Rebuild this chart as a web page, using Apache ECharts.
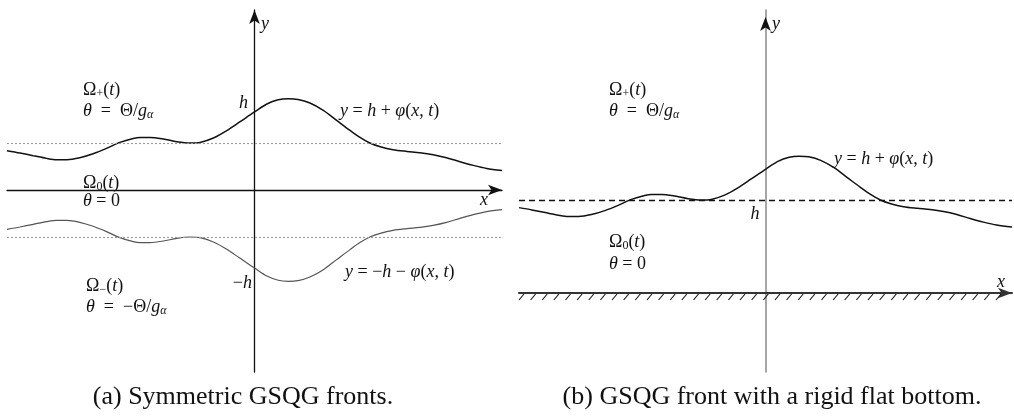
<!DOCTYPE html>
<html>
<head>
<meta charset="utf-8">
<script src="https://cdn.jsdelivr.net/npm/echarts@6/dist/echarts.min.js"></script>
<style>
  html, body { margin: 0; padding: 0; background: #fff; }
  #chart { width: 1014px; height: 416px; }
</style>
</head>
<body>
<div id="chart"></div>
<script>
// front shape: x position and phi(x) (offset from h)
const FRONT_X = [-5.0, -4.74, -4.47, -4.20, -4.00, -3.79, -3.53, -3.26, -2.99, -2.72,
  -2.45, -2.31, -2.11, -1.84, -1.57, -1.30, -1.10, -0.83, -0.56, -0.29,
  0, 0.25, 0.48, 0.68, 0.88, 1.12, 1.39, 1.66, 1.93, 2.13,
  2.33, 2.54, 2.80, 3.08, 3.34, 3.61, 3.88, 4.15, 4.42, 4.69, 5.0];
const FRONT_PHI = [-0.164, -0.213, -0.270, -0.327, -0.355, -0.355, -0.313, -0.228, -0.115, 0.013,
  0.098, 0.119, 0.119, 0.085, 0.028, 0.0, 0.013, 0.106, 0.262, 0.453,
  0.66, 0.83, 0.92, 0.943, 0.928, 0.851, 0.694, 0.481, 0.268, 0.119,
  0.0, -0.079, -0.143, -0.179, -0.206, -0.249, -0.313, -0.398, -0.476, -0.540, -0.583];
const H_A = 1;   // panel (a) level h
const H_B = 2;   // panel (b) level h above the bottom
const X_RANGE = [-5, 5];
const Y_RANGE_A = [-3.872, 3.83];
const Y_RANGE_B = [-1.699, 6.086];

const upperA = FRONT_X.map((x, i) => [x, H_A + FRONT_PHI[i]]);
const lowerA = FRONT_X.map((x, i) => [x, -H_A - FRONT_PHI[i]]);
const frontB = FRONT_X.map((x, i) => [x, H_B + FRONT_PHI[i]]);

// hatching under the rigid bottom (decoration only)
const hatch = [];
for (let x = -4.95; x < 4.95; x += 0.236) hatch.push([x, 0]);

const FONT = '"Liberation Serif", "DejaVu Serif", serif';
const RICH = {
  i: { fontStyle: 'italic', fontSize: 18, fontFamily: FONT, fill: '#111', lineHeight: 20 },
  s: { fontSize: 12, fontFamily: FONT, fill: '#111', verticalAlign: 'bottom', lineHeight: 9 },
  si: { fontSize: 12, fontStyle: 'italic', fontFamily: FONT, fill: '#111', verticalAlign: 'bottom', lineHeight: 9 }
};

function T(x, y, text, align, size) {
  return {
    type: 'text', x: x, y: y, z: 100,
    style: {
      text: text, rich: RICH, fontSize: size || 18, fontFamily: FONT, fill: '#111',
      lineHeight: 20, align: align || 'left', verticalAlign: 'middle'
    }
  };
}

const ARROW = { symbol: ['none', 'arrow'], symbolSize: [8, 14] };
const NO_ARROW = { symbol: 'none' };

function axisPair(gi, yr, xColor, yColor, xWidth, yWidth, xArrow, yArrow) {
  return {
    x: {
      type: 'value', gridIndex: gi, min: X_RANGE[0], max: X_RANGE[1],
      axisLine: Object.assign({ onZero: true, lineStyle: { color: xColor, width: xWidth } }, xArrow),
      axisTick: { show: false }, axisLabel: { show: false }, splitLine: { show: false }
    },
    y: {
      type: 'value', gridIndex: gi, min: yr[0], max: yr[1],
      axisLine: Object.assign({ onZero: true, lineStyle: { color: yColor, width: yWidth } }, yArrow),
      axisTick: { show: false }, axisLabel: { show: false }, splitLine: { show: false }
    }
  };
}

const axA = axisPair(0, Y_RANGE_A, '#111', '#111', 1.3, 1.3, ARROW, ARROW);
const axB = axisPair(1, Y_RANGE_B, '#333', '#888', 2, 1.5, ARROW, NO_ARROW);

const chart = echarts.init(document.getElementById('chart'), null, { renderer: 'canvas' });

chart.setOption({
  animation: false,
  backgroundColor: '#fff',
  grid: [
    { left: 7, right: 512, top: 10, height: 362 },
    { left: 519, right: 2, top: 10, height: 362 }
  ],
  xAxis: [axA.x, axB.x],
  yAxis: [axA.y, axB.y],
  series: [
    {
      type: 'line', xAxisIndex: 0, yAxisIndex: 0, data: upperA, smooth: 0.3,
      symbol: 'none', lineStyle: { color: '#111', width: 1.5 },
      markLine: {
        silent: true, symbol: 'none', label: { show: false },
        lineStyle: { color: '#999', type: [2, 2], width: 1.1 },
        data: [{ yAxis: H_A }, { yAxis: -H_A }]
      }
    },
    {
      type: 'line', xAxisIndex: 0, yAxisIndex: 0, data: lowerA, smooth: 0.3,
      symbol: 'none', lineStyle: { color: '#555', width: 1.2 }
    },
    {
      type: 'line', xAxisIndex: 1, yAxisIndex: 1, data: frontB, smooth: 0.3,
      symbol: 'none', lineStyle: { color: '#111', width: 1.5 },
      markLine: {
        silent: true, symbol: 'none', label: { show: false },
        lineStyle: { color: '#111', type: [6, 4], width: 1.3 },
        data: [{ yAxis: H_B }]
      },
      // black arrow head on the grey y axis of panel (b)
      markPoint: {
        silent: true, label: { show: false }, itemStyle: { color: '#111' },
        data: [
          { coord: [0, Y_RANGE_B[1]], symbol: 'arrow', symbolSize: [8, 14], symbolOffset: [0, 7] }
        ]
      }
    },
    {
      type: 'custom', xAxisIndex: 1, yAxisIndex: 1, data: hatch, silent: true,
      encode: { x: 0, y: 1 },
      renderItem: function (params, api) {
        const p = api.coord([api.value(0), 0]);
        return {
          type: 'line',
          shape: { x1: p[0] - 2.5, y1: p[1] + 7, x2: p[0] + 2.5, y2: p[1] + 1 },
          style: { stroke: '#111', lineWidth: 1.1 }
        };
      }
    }
  ],
  graphic: [
    // panel (a)
    T(83, 90, 'Ω{s|+}({i|t})'),
    T(83, 111, '{i|θ}  =  Θ/{i|g}{si|α}'),
    T(248, 103, '{i|h}', 'right'),
    T(340, 111, '{i|y} = {i|h} + {i|φ}({i|x}, {i|t})'),
    T(83, 183, 'Ω{s|0}({i|t})'),
    T(83, 201, '{i|θ} = 0'),
    T(484, 200, '{i|x}', 'center'),
    T(261, 24, '{i|y}'),
    T(86, 286, 'Ω{s|−}({i|t})'),
    T(86, 307, '{i|θ}  =  −Θ/{i|g}{si|α}'),
    T(252, 283, '−{i|h}', 'right'),
    T(345, 272, '{i|y} = −{i|h} − {i|φ}({i|x}, {i|t})'),
    T(243, 397, '(a) Symmetric GSQG fronts.', 'center', 26),
    // panel (b)
    T(609, 90, 'Ω{s|+}({i|t})'),
    T(609, 111, '{i|θ}  =  Θ/{i|g}{si|α}'),
    T(772, 24, '{i|y}'),
    T(834, 159, '{i|y} = {i|h} + {i|φ}({i|x}, {i|t})'),
    T(755, 214, '{i|h}', 'center'),
    T(609, 242, 'Ω{s|0}({i|t})'),
    T(609, 264, '{i|θ} = 0'),
    T(1001, 282, '{i|x}', 'center'),
    T(772, 397, '(b) GSQG front with a rigid flat bottom.', 'center', 26)
  ]
});
</script>
</body>
</html>
